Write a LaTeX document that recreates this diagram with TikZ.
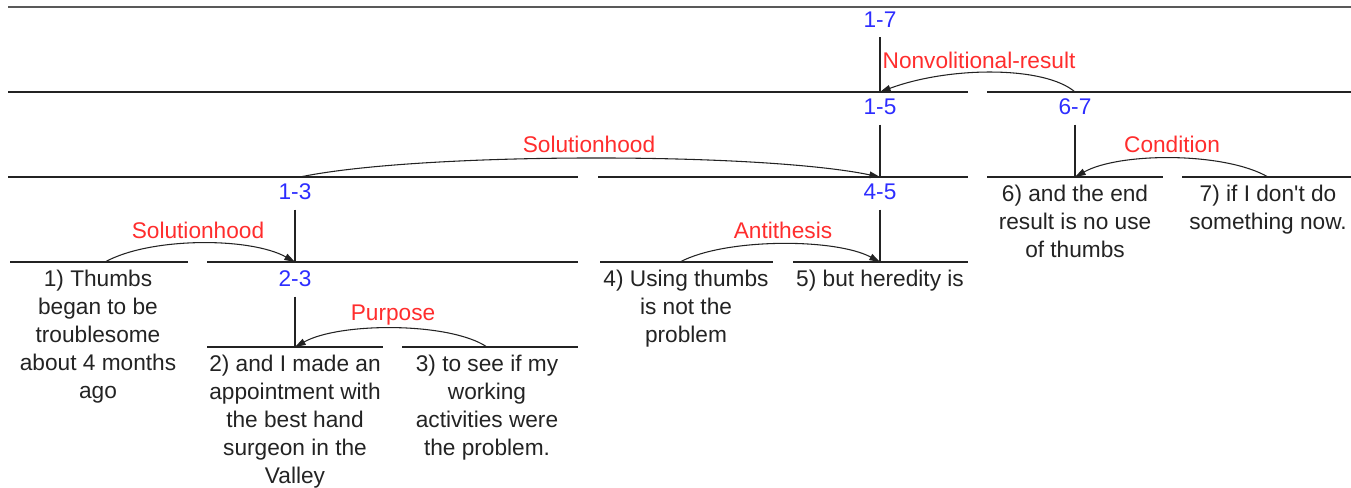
\documentclass[tikz,border=0pt]{standalone}
\usepackage{fontspec}
\setmainfont{Liberation Sans}[Ligatures=TeXOff]
\usetikzlibrary{arrows.meta}
\definecolor{spanblue}{RGB}{45,45,255}
\definecolor{relred}{RGB}{255,45,45}
\definecolor{ink}{RGB}{35,35,35}
\begin{document}
\begin{tikzpicture}[x=0.75pt,y=-0.75pt,
  seg/.style={line width=1.1pt, draw=ink},
  topseg/.style={line width=1.5pt, draw=black!65},
  spanlbl/.style={text=spanblue, font=\fontsize{17}{21}\selectfont, inner sep=1pt},
  rellbl/.style={text=relred, font=\fontsize{17}{21}\selectfont, inner sep=1pt},
  edu/.style={align=center, font=\fontsize{17}{21}\selectfont, inner sep=0pt, anchor=north, text=ink},
  relarrow/.style={line width=0.8pt, draw=ink, -{Triangle[length=8pt,width=5pt]}},
  stem/.style={line width=0.9pt, draw=ink, shorten <=6pt}
]
\useasboundingbox (0,0) rectangle (1351,488);

% horizontal span lines
\draw[topseg] (8,7) -- (1351,7);
\draw[seg] (8,92) -- (968,92);
\draw[seg] (987,92) -- (1351,92);
\draw[seg] (8,177) -- (578,177);
\draw[seg] (598,177) -- (968,177);
\draw[seg] (987,177) -- (1163,177);
\draw[seg] (1182,177) -- (1351,177);
\draw[seg] (10,262) -- (188,262);
\draw[seg] (207,262) -- (578,262);
\draw[seg] (600,262) -- (773,262);
\draw[seg] (793,262) -- (968,262);
\draw[seg] (207,347) -- (383,347);
\draw[seg] (402,347) -- (578,347);

% attachment points
\coordinate (a15) at (880,92);
\coordinate (a67) at (1075,92);
\coordinate (a13) at (300,177);
\coordinate (a45) at (880,177);
\coordinate (a6) at (1075,177);
\coordinate (a7) at (1268,177);
\coordinate (a1) at (105,262);
\coordinate (a23) at (295,262);
\coordinate (a4) at (680,262);
\coordinate (a5) at (880,262);
\coordinate (a2) at (295,347);
\coordinate (a3) at (487,347);

% span labels
\node[spanlbl] (s17) at (880,20) {1-7};
\node[spanlbl] (s15) at (880,107) {1-5};
\node[spanlbl] (s67) at (1075,107) {6-7};
\node[spanlbl] (s13) at (295,192) {1-3};
\node[spanlbl] (s45) at (880,192) {4-5};
\node[spanlbl] (s23) at (295,279) {2-3};

% stems
\draw[stem] (s17.south) -- (a15);
\draw[stem] (s15.south) -- (a45);
\draw[stem] (s67.south) -- (a6);
\draw[stem] (s13.south) -- (a23);
\draw[stem] (s45.south) -- (a5);
\draw[stem] (s23.south) -- (a2);

% relation labels
\node[rellbl] (rNV) at (979,60) {Nonvolitional-result};
\node[rellbl] (rSH1) at (589,144) {Solutionhood};
\node[rellbl] (rCO) at (1172,144) {Condition};
\node[rellbl] (rSH2) at (198,230) {Solutionhood};
\node[rellbl] (rAN) at (783,230) {Antithesis};
\node[rellbl] (rPU) at (393,315) {Purpose};

% relation arrows
\draw[relarrow] (a67) .. controls (1045,66) and (950,66) .. (a15);
\draw[relarrow] (a13) .. controls (420,152) and (760,152) .. (a45);
\draw[relarrow] (a7) .. controls (1225,152) and (1120,152) .. (a6);
\draw[relarrow] (a1) .. controls (150,237) and (250,237) .. (a23);
\draw[relarrow] (a4) .. controls (725,238) and (835,238) .. (a5);
\draw[relarrow] (a3) .. controls (450,322) and (340,322) .. (a2);

% elementary units
\node[edu] (e1) at (98,270) {1) Thumbs\\began to be\\troublesome\\about 4 months\\ago};
\node[edu] (e2) at (295,355) {2) and I made an\\appointment with\\the best hand\\surgeon in the\\Valley};
\node[edu] (e3) at (487,355) {3) to see if my\\working\\activities were\\the problem.};
\node[edu] (e4) at (686,270) {4) Using thumbs\\is not the\\problem};
\node[edu] (e5) at (880,270) {5) but heredity is};
\node[edu] (e6) at (1075,185) {6) and the end\\result is no use\\of thumbs};
\node[edu] (e7) at (1268,185) {7) if I don't do\\something now.};
\end{tikzpicture}
\end{document}
